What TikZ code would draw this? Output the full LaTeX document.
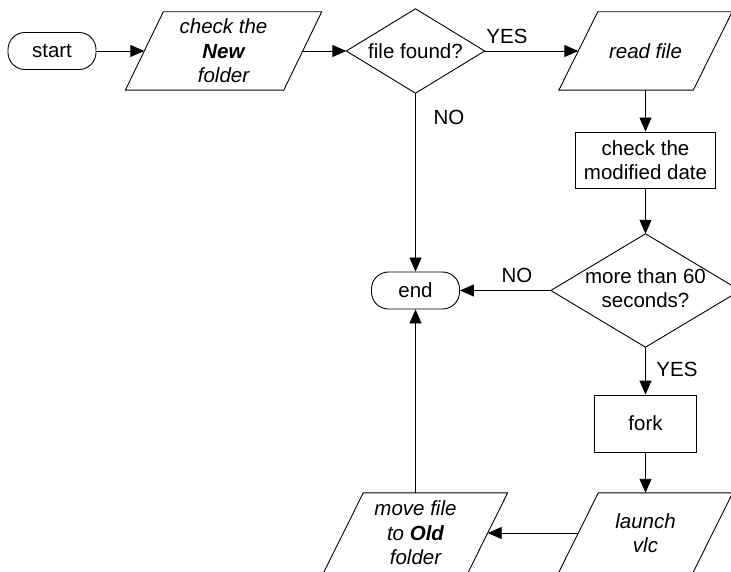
\documentclass[tikz,border=0pt]{standalone}
\usepackage{fontspec}
\setmainfont{Liberation Sans}
\usetikzlibrary{arrows.meta,calc}

% outline of an input/output step: a parallelogram laid over a holder node
\newcommand\slantbox[2]{%
  \draw[outline] ($(#1.north west)+(#2,0)$) -- ($(#1.north east)+(#2,0)$)
    -- ($(#1.south east)-(#2,0)$) -- ($(#1.south west)-(#2,0)$) -- cycle;}
% outline of a decision: a diamond through the holder's side anchors
\newcommand\decisionbox[1]{%
  \draw[outline] (#1.north) -- (#1.east) -- (#1.south) -- (#1.west) -- cycle;}

\begin{document}
\begin{tikzpicture}[x=1pt,y=-1pt,
  txt/.style={font=\fontsize{20.5}{24.5}\selectfont},
  every node/.style={txt, align=center, inner sep=0pt},
  ital/.style={font=\fontsize{20.5}{24.5}\selectfont\itshape},
  outline/.style={draw=black, line width=0.9pt},
  flow/.style={draw=black, line width=0.9pt, -{Triangle[length=14pt,width=12pt]}},
  terminal/.style={outline, rounded corners=17pt, minimum width=88pt, minimum height=37pt},
  process/.style={outline, minimum height=56pt}
]
\fill[white] (0,0) rectangle (731,572);
\clip (0,0) rectangle (731,572);

% terminals
\node[terminal] (start) at (52,51) {start};
\node[terminal] (end) at (415.5,290.5) {end};

% input/output steps
\node[ital, minimum width=158pt, minimum height=78pt] (newf) at (223.5,51)
  {check the\\\textbf{New}\\folder};
\slantbox{newf}{19}
\node[ital, minimum width=134pt, minimum height=78pt] (read) at (645.5,51) {read file};
\slantbox{read}{19.5}
\node[ital, minimum width=134pt, minimum height=80pt] (launch) at (645.5,533) {launch\\vlc};
\slantbox{launch}{20}
\node[ital, minimum width=144pt, minimum height=80pt] (move) at (415.5,533)
  {move file\\to \textbf{Old}\\folder};
\slantbox{move}{20}

% decisions
\node[minimum width=138pt, minimum height=84pt] (found) at (415.5,51) {file found?};
\decisionbox{found}
\node[minimum width=189pt, minimum height=113pt] (age) at (645.5,290.5)
  {\raisebox{-3pt}{\begin{tabular}{@{}c@{}}more than 60\\seconds?\end{tabular}}};
\decisionbox{age}

% processes
\node[process, minimum width=140pt] (date) at (645.5,160) {check the\\modified date};
\node[process, minimum width=102pt, minimum height=57pt] (fork) at (645.5,423.5) {fork};

% connectors
\draw[flow] (start.east) -- (newf.west);
\draw[flow] (newf.east) -- (found.west);
\draw[flow] (found.east) -- (read.west);
\draw[flow] (read.south) -- (date.north);
\draw[flow] (date.south) -- (age.north);
\draw[flow] (age.west) -- (end.east);
\draw[flow] (found.south) -- (end.north);
\draw[flow] (age.south) -- (fork.north);
\draw[flow] (fork.south) -- (launch.north);
\draw[flow] (launch.west) -- (move.east);
\draw[flow] (move.north) -- (end.south);

% branch labels
\node (yesfound) at (507,36) {YES};
\node (nofound) at (449,117) {NO};
\node (noage) at (517,275) {NO};
\node (yesage) at (677,369) {YES};
\end{tikzpicture}
\end{document}
